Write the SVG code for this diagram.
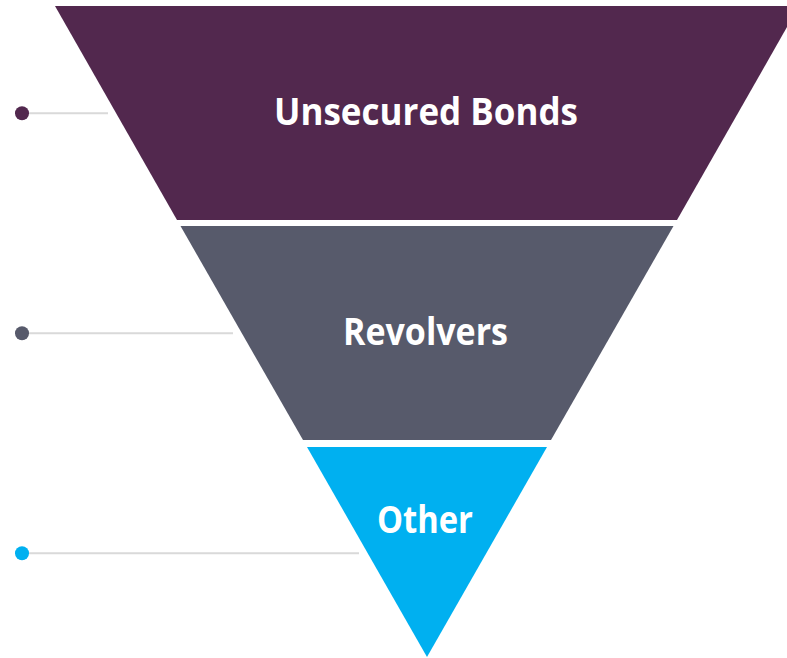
<svg xmlns="http://www.w3.org/2000/svg" width="787" height="658" viewBox="0 0 787 658">
<style>
.lbl{font-family:"Open Sans","Noto Sans","DejaVu Sans",sans-serif;font-weight:700;font-size:37px;fill:#ffffff;text-anchor:middle}
.lead{stroke:#d9d9d9;stroke-width:2;fill:none}
</style>
<rect width="787" height="658" fill="#ffffff"/>
<g id="connectors">
<line class="lead" x1="22" y1="113.3" x2="108" y2="113.3"/>
<line class="lead" x1="22" y1="333.3" x2="233" y2="333.3"/>
<line class="lead" x1="22" y1="553.3" x2="359" y2="553.3"/>
<circle cx="22" cy="113.3" r="7" fill="#52284e"/>
<circle cx="22" cy="333.3" r="7" fill="#575a6b"/>
<circle cx="22" cy="553.3" r="7" fill="#00b0f0"/>
</g>
<g id="unsecured-bonds">
<polygon points="55,6 799,6 677,220 177,220" fill="#52284e"/>
<text class="lbl" x="426" y="124.5" textLength="304" lengthAdjust="spacingAndGlyphs">Unsecured Bonds</text>
</g>
<g id="revolvers">
<polygon points="180.5,226 673.5,226 551,440 303,440" fill="#575a6b"/>
<text class="lbl" x="425.5" y="344.5" textLength="165" lengthAdjust="spacingAndGlyphs">Revolvers</text>
</g>
<g id="other">
<polygon points="307,447 547,447 427,657" fill="#00b0f0"/>
<text class="lbl" x="425" y="532.5" textLength="96" lengthAdjust="spacingAndGlyphs">Other</text>
</g>
</svg>
